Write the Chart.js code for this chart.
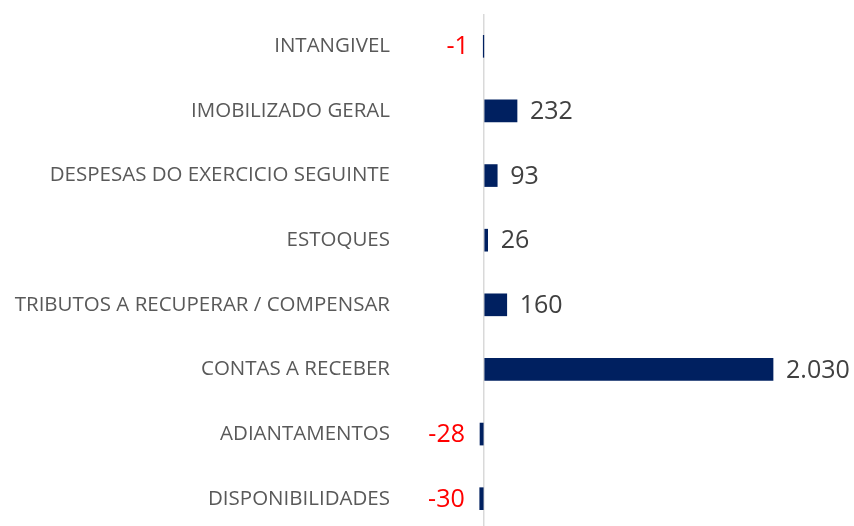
<!DOCTYPE html>
<html><head><meta charset="utf-8">
<script src="https://cdn.jsdelivr.net/npm/chart.js@4/dist/chart.umd.min.js"></script>
<style>
html,body{margin:0;padding:0;background:#fff;overflow:hidden;}
#wrap{position:relative;width:854px;height:531px;}
</style></head>
<body><div id="wrap"><canvas id="c"></canvas></div>
<script>
const categories = ["INTANGIVEL","IMOBILIZADO GERAL","DESPESAS DO EXERCICIO SEGUINTE","ESTOQUES","TRIBUTOS A RECUPERAR / COMPENSAR","CONTAS A RECEBER","ADIANTAMENTOS","DISPONIBILIDADES"];
const values = [-1, 232, 93, 26, 160, 2030, -28, -30];

function fmt(v){
  const s = Math.abs(v).toString().replace(/\B(?=(\d{3})+(?!\d))/g, ".");
  return (v<0?"-":"") + s;
}

const valueLabels = {
  id:'valueLabels',
  afterDatasetsDraw(chart){
    const ctx = chart.ctx;
    const meta = chart.getDatasetMeta(0);
    ctx.save();
    ctx.font = '25px "Open Sans", "Liberation Sans", sans-serif';
    ctx.textBaseline = 'middle';
    meta.data.forEach((bar,i)=>{
      const v = values[i];
      if(v<0){
        ctx.fillStyle = '#ff0000';
        ctx.textAlign = 'right';
        ctx.fillText(fmt(v), bar.x - 15, bar.y + 1);
      } else {
        ctx.fillStyle = '#404040';
        ctx.textAlign = 'left';
        ctx.fillText(fmt(v), bar.x + 13, bar.y + 1);
      }
    });
    ctx.restore();
  }
};

new Chart(document.getElementById('c'), {
  type:'bar',
  data:{labels:categories, datasets:[{data:values, backgroundColor:'#002060', barThickness:22}]},
  options:{
    indexAxis:'y',
    responsive:true, maintainAspectRatio:false, animation:false,
    layout:{padding:{top:14,left:0,right:0,bottom:0}},
    plugins:{legend:{display:false}, tooltip:{enabled:false}},
    scales:{
      x:{
        min:-449.4, max:2598.6,
        ticks:{display:false},
        border:{display:false},
        grid:{drawTicks:false, lineWidth:1.5, color:(c)=> (c.tick && c.tick.value===0) ? '#d9d9d9' : 'rgba(0,0,0,0)'},
        afterBuildTicks:(s)=>{ s.ticks=[{value:0}]; },
        afterFit:(s)=>{ s.height=0; s.paddingLeft=0; s.paddingRight=0; s.paddingTop=0; s.paddingBottom=0; }
      },
      y:{
        border:{display:false},
        grid:{display:false, drawTicks:false},
        ticks:{padding:30, color:'#595959', font:{family:'"Open Sans", "Liberation Sans", sans-serif', size:20.5}},
        afterFit:(s)=>{ s.width=420; s.paddingTop=0; s.paddingBottom=0; s.paddingLeft=0; s.paddingRight=0; }
      }
    }
  },
  plugins:[valueLabels]
});
</script></body></html>
